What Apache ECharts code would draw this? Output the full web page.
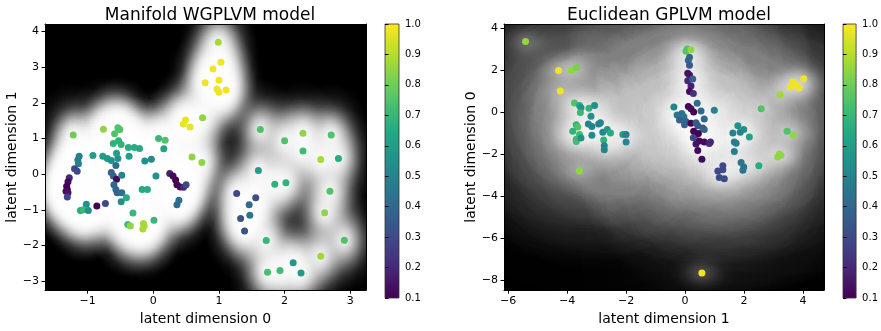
<!DOCTYPE html>
<html>
<head>
<meta charset="utf-8">
<script src="https://cdn.jsdelivr.net/npm/echarts@6/dist/echarts.min.js"></script>
<style>
html, body { margin: 0; padding: 0; background: #fff; }
#main { width: 881px; height: 331px; }
</style>
</head>
<body>
<div id="main"></div>
<script>
// colour scale (viridis) and tick labels
var viridis = ['#440154', '#482475', '#414487', '#355f8d', '#2a788e', '#21918c',
               '#22a884', '#44bf70', '#7ad151', '#bddf26', '#fde725'];
var leftXTicks = [-1, 0, 1, 2, 3];
var leftYTicks = [-3, -2, -1, 0, 1, 2, 3, 4];
var rightXTicks = [-6, -4, -2, 0, 2, 4];
var rightYTicks = [-8, -6, -4, -2, 0, 2, 4];
var cbTicks = [0.1, 0.2, 0.3, 0.4, 0.5, 0.6, 0.7, 0.8, 0.9, 1.0];

// [latent x, latent y, colour value]
var leftPoints = [
  [0.99, 3.70, 0.88], [1.03, 3.14, 0.98], [0.91, 2.95, 0.98], [1.00, 2.63, 0.98], [0.79, 2.56, 0.98],
  [0.97, 2.39, 0.98], [1.00, 2.30, 0.98], [1.11, 2.36, 0.98],
  [0.75, 1.58, 0.85], [0.49, 1.52, 0.97], [0.46, 1.41, 0.97], [0.56, 1.32, 0.97],
  [-1.22, 1.10, 0.80], [-0.76, 1.26, 0.85], [-0.54, 1.30, 0.75], [-0.51, 1.25, 0.75], [-0.59, 1.13, 0.75],
  [-0.53, 0.94, 0.68], [-0.61, 0.86, 0.68], [-0.49, 0.83, 0.68], [-0.38, 0.75, 0.66], [-0.29, 0.75, 0.66],
  [-0.21, 0.72, 0.64], [0.08, 1.00, 0.70], [0.18, 0.95, 0.75], [0.16, 0.71, 0.62], [0.59, 0.48, 0.85],
  [0.74, 0.33, 0.85],
  [-0.92, 0.52, 0.60], [-0.77, 0.50, 0.60], [-0.70, 0.44, 0.58], [-0.64, 0.38, 0.55], [-0.54, 0.44, 0.55],
  [-1.13, 0.50, 0.48], [-1.15, 0.40, 0.48], [-1.14, 0.29, 0.50], [-0.37, 0.50, 0.60], [-0.13, 0.37, 0.55],
  [-0.03, 0.42, 0.52], [-0.56, 0.59, 0.60],
  [-1.20, 0.15, 0.30], [-1.16, 0.08, 0.30],
  [-1.28, -0.10, 0.20], [-1.30, -0.21, 0.12], [-1.32, -0.34, 0.10], [-1.31, -0.43, 0.10], [-1.33, -0.48, 0.12],
  [-1.30, -0.52, 0.15], [-1.31, -0.64, 0.28],
  [-0.57, 0.24, 0.42], [-0.64, 0.05, 0.38], [-0.61, -0.05, 0.38], [-0.56, -0.14, 0.12], [-0.48, -0.03, 0.50],
  [-0.60, -0.30, 0.40], [-0.57, -0.43, 0.40], [-0.55, -0.52, 0.40], [-0.48, -0.52, 0.42], [-0.41, -0.66, 0.65],
  [-0.49, -0.77, 0.55],
  [0.04, -0.05, 0.55], [-0.17, -0.43, 0.65], [-0.09, -0.43, 0.65],
  [-1.02, -0.84, 0.55], [-0.86, -0.89, 0.10], [-0.73, -0.82, 0.30],
  [-1.11, -1.02, 0.65], [-1.07, -1.00, 0.70], [-0.99, -1.02, 0.55],
  [-0.31, -1.09, 0.70], [-0.39, -1.41, 0.72], [-0.35, -1.45, 0.85],
  [-0.15, -1.38, 0.88], [-0.14, -1.45, 0.88], [-0.16, -1.54, 0.88], [0.01, -1.29, 0.70],
  [0.25, 0.02, 0.18], [0.30, -0.05, 0.12], [0.34, -0.16, 0.10], [0.36, -0.30, 0.12], [0.41, -0.36, 0.12],
  [0.46, -0.37, 0.20], [0.50, -0.30, 0.30], [0.39, -0.73, 0.42], [0.36, -0.86, 0.42],
  [1.63, 1.25, 0.75], [2.28, 1.15, 0.85], [2.71, 1.10, 0.75], [2.00, 0.94, 0.75], [2.28, 0.65, 0.72],
  [2.55, 0.41, 0.88], [2.82, 0.44, 0.65],
  [1.60, 0.10, 0.60], [1.85, -0.28, 0.68], [2.02, -0.24, 0.68], [2.69, -0.48, 0.75],
  [1.27, -0.54, 0.30], [1.56, -0.66, 0.32], [1.46, -0.86, 0.42], [1.47, -1.15, 0.45], [1.33, -1.24, 0.33],
  [1.39, -1.59, 0.32],
  [2.61, -1.08, 0.85], [1.72, -1.86, 0.70], [2.91, -1.85, 0.75], [2.55, -2.30, 0.87], [2.13, -2.48, 0.58],
  [2.25, -2.77, 0.58], [1.74, -2.75, 0.73], [1.93, -2.70, 0.72]
];

var rightPoints = [
  [-5.41, 3.36, 0.85], [-4.29, 1.97, 0.98], [-3.86, 1.97, 0.85], [-3.68, 2.12, 0.82], [-4.23, 1.00, 0.98],
  [-3.75, 0.43, 0.75], [-3.58, 0.31, 0.65], [-3.53, 0.20, 0.55], [-3.55, -0.03, 0.70], [-3.26, 0.18, 0.68],
  [-3.07, 0.31, 0.55], [-3.19, -0.20, 0.55],
  [-3.28, -0.57, 0.50], [-3.16, -0.69, 0.50], [-2.93, -0.58, 0.50], [-2.87, -0.51, 0.50], [-3.69, -0.61, 0.68],
  [-3.64, -0.72, 0.75], [-3.81, -0.92, 0.68], [-3.58, -1.07, 0.72], [-3.69, -1.30, 0.72], [-3.69, -1.41, 0.72],
  [-3.53, -1.24, 0.55], [-3.16, -1.11, 0.52], [-2.79, -0.97, 0.52], [-2.64, -0.84, 0.58], [-2.53, -1.00, 0.65],
  [-2.76, -1.34, 0.68], [-2.74, -1.61, 0.50], [-2.74, -1.80, 0.50], [-2.11, -1.07, 0.60], [-2.00, -1.07, 0.50],
  [-2.00, -1.43, 0.52],
  [-3.58, -2.81, 0.85],
  [0.07, 3.00, 0.75], [0.03, 2.89, 0.75], [0.20, 2.96, 0.85], [0.15, 2.61, 0.40], [0.11, 2.46, 0.40],
  [0.15, 2.23, 0.35], [0.09, 1.84, 0.15], [0.15, 1.76, 0.15], [0.09, 1.49, 0.20], [0.26, 1.57, 0.38],
  [0.20, 1.23, 0.18], [0.15, 0.97, 0.12], [0.28, 0.88, 0.22],
  [-0.38, 0.23, 0.50], [0.11, 0.26, 0.12], [0.20, 0.15, 0.12], [0.41, 0.41, 0.42], [0.54, 0.05, 0.40],
  [0.29, 0.00, 0.10], [0.99, 0.08, 0.50],
  [-0.27, -0.15, 0.45], [-0.11, -0.08, 0.45], [-0.04, -0.23, 0.45], [-0.19, -0.38, 0.38], [-0.02, -0.61, 0.38],
  [0.03, -0.46, 0.38], [0.20, -0.54, 0.10], [0.37, -0.51, 0.35], [0.65, -0.34, 0.40], [0.43, -0.66, 0.35],
  [0.60, -0.77, 0.35], [0.65, -0.84, 0.38],
  [0.29, -0.92, 0.10], [0.37, -1.07, 0.10], [0.45, -1.03, 0.10], [0.28, -1.23, 0.30], [0.48, -1.38, 0.12],
  [0.65, -1.43, 0.12], [0.82, -1.51, 0.20], [0.86, -1.43, 0.20], [0.37, -1.53, 0.15], [0.43, -1.84, 0.12],
  [0.57, -2.26, 0.12],
  [1.79, -0.66, 0.55], [1.99, -0.84, 0.55], [1.62, -1.00, 0.50], [1.87, -0.97, 0.50], [2.18, -1.20, 0.62],
  [1.67, -1.43, 0.48], [1.73, -1.49, 0.48], [1.67, -1.89, 0.48],
  [2.58, 0.15, 0.75], [3.22, 0.82, 0.87], [3.65, 1.43, 0.98], [3.57, 1.18, 0.98], [3.76, 1.30, 0.98],
  [3.87, 1.15, 0.98], [4.02, 1.58, 0.98],
  [3.46, -0.92, 0.75], [3.67, -1.11, 0.85], [3.20, -2.00, 0.85], [3.25, -2.07, 0.85], [3.14, -2.15, 0.85],
  [1.28, -2.57, 0.30], [1.11, -2.81, 0.30], [1.28, -2.76, 0.30], [1.16, -3.12, 0.30], [1.33, -3.18, 0.30],
  [1.90, -2.41, 0.45], [1.99, -2.63, 0.45], [1.96, -2.78, 0.45], [2.50, -2.57, 0.65],
  [0.57, -7.68, 0.98]
];

var myChart = echarts.init(document.getElementById('main'));
var font = 'DejaVu Sans';

function minus(v) {
  return String(v).replace('-', '\u2212');
}

// soft white halo around each point, radii rx / ry in data units
function glow(rx, ry, stops) {
  return function (params, api) {
    var p = api.coord([api.value(0), api.value(1)]);
    var s = api.size([1, 1]);
    return {
      type: 'circle',
      x: p[0],
      y: p[1],
      scaleX: (rx * s[0]) / (ry * s[1]),
      shape: { cx: 0, cy: 0, r: ry * s[1] },
      style: { fill: new echarts.graphic.RadialGradient(0.5, 0.5, 0.5, stops) }
    };
  };
}
// wide smooth halo drawn as a blurred shadow (sigma in data units)
function blurGlow(sigma, alpha) {
  return function (params, api) {
    var p = api.coord([api.value(0), api.value(1)]);
    var s = api.size([1, 1]);
    var sp = sigma * Math.sqrt(s[0] * s[1]);
    var r0 = sp * 0.6;
    var off = 4000;
    return {
      type: 'circle',
      x: p[0] - off,
      y: p[1],
      shape: { cx: 0, cy: 0, r: r0 },
      style: {
        fill: '#fff',
        shadowBlur: 2 * Math.sqrt(sp * sp - r0 * r0 / 4),
        shadowColor: 'rgba(255,255,255,' + alpha + ')',
        shadowOffsetX: off
      }
    };
  };
}
// gaussian-like fall-off, radius = 3 sigma
function gauss(a) {
  var out = [];
  for (var i = 0; i <= 10; i++) {
    var t = i / 10;
    var alpha = i === 10 ? 0 : a * Math.exp(-4.5 * t * t);
    out.push({ offset: t, color: 'rgba(255,255,255,' + alpha.toFixed(4) + ')' });
  }
  return out;
}

function mainX(idx, min, max, ticks, name) {
  return {
    gridIndex: idx, type: 'value', min: min, max: max, z: 5,
    axisLine: { show: true, onZero: false, lineStyle: { color: '#000', width: 1 } },
    axisTick: { show: true, length: 3.5, customValues: ticks, lineStyle: { color: '#000' } },
    axisLabel: { customValues: ticks, formatter: minus, color: '#000', fontSize: 11, fontFamily: font, margin: 6 },
    splitLine: { show: false },
    name: name, nameLocation: 'middle', nameGap: 20,
    nameTextStyle: { color: '#000', fontSize: 14, fontFamily: font }
  };
}
function mainY(idx, min, max, ticks, name) {
  return {
    gridIndex: idx, type: 'value', min: min, max: max, z: 5,
    axisLine: { show: true, onZero: false, lineStyle: { color: '#000', width: 1 } },
    axisTick: { show: true, length: 3.5, customValues: ticks, lineStyle: { color: '#000' } },
    axisLabel: { customValues: ticks, formatter: minus, color: '#000', fontSize: 11, fontFamily: font, margin: 6 },
    splitLine: { show: false },
    name: name, nameLocation: 'middle', nameGap: 20,
    nameTextStyle: { color: '#000', fontSize: 14, fontFamily: font }
  };
}
function frameAxis(idx, pos) {
  return {
    gridIndex: idx, type: 'value', position: pos, z: 5,
    axisLine: { show: true, onZero: false, lineStyle: { color: '#000', width: 1 } },
    axisTick: { show: false }, axisLabel: { show: false }, splitLine: { show: false }
  };
}
function cbX(idx) {
  return { gridIndex: idx, type: 'value', min: 0, max: 1, show: false };
}
function cbY(idx) {
  return {
    gridIndex: idx, type: 'value', min: 0.1, max: 1.0, position: 'right',
    axisLine: { show: false },
    axisTick: { show: true, length: 3.5, customValues: cbTicks, lineStyle: { color: '#000' } },
    axisLabel: {
      customValues: cbTicks, color: '#000', fontSize: 10, fontFamily: font, margin: 6,
      formatter: function (v) { return v.toFixed(1); }
    },
    splitLine: { show: false }
  };
}
var cbFill = {
  type: 'linear', x: 0, y: 1, x2: 0, y2: 0,
  colorStops: viridis.map(function (c, i) { return { offset: i / 10, color: c }; })
};

function customSeries(axis, data, z, render) {
  return {
    type: 'custom', xAxisIndex: axis, yAxisIndex: axis, clip: true, z: z, silent: true,
    encode: { x: 0, y: 1 },
    renderItem: render,
    data: data
  };
}

option = {
  animation: false,
  backgroundColor: '#fff',
  textStyle: { fontFamily: font },
  title: [
    { text: 'Manifold WGPLVM model', left: 205, top: 2, textAlign: 'center',
      textStyle: { fontSize: 17, fontWeight: 'normal', color: '#000', fontFamily: font } },
    { text: 'Euclidean GPLVM model', left: 664, top: 2, textAlign: 'center',
      textStyle: { fontSize: 17, fontWeight: 'normal', color: '#000', fontFamily: font } }
  ],
  grid: [
    { left: 45, top: 24, width: 321, height: 275, show: true, backgroundColor: '#000', borderWidth: 0 },
    { left: 385, top: 24, width: 14, height: 274, show: true, backgroundColor: cbFill, borderColor: '#333', borderWidth: 0.8 },
    { left: 504, top: 24, width: 320, height: 275, show: true, backgroundColor: '#000', borderWidth: 0 },
    { left: 843, top: 24, width: 14, height: 274, show: true, backgroundColor: cbFill, borderColor: '#333', borderWidth: 0.8 }
  ],
  xAxis: [
    mainX(0, -1.65, 3.24, leftXTicks, 'latent dimension 0'),
    cbX(1),
    mainX(2, -6.14, 4.71, rightXTicks, 'latent dimension 1'),
    cbX(3),
    frameAxis(0, 'top'),
    frameAxis(2, 'top')
  ],
  yAxis: [
    mainY(0, -3.25, 4.21, leftYTicks, 'latent dimension 1'),
    cbY(1),
    mainY(2, -8.49, 4.19, rightYTicks, 'latent dimension 0'),
    cbY(3),
    frameAxis(0, 'right'),
    frameAxis(2, 'right')
  ],
  visualMap: {
    show: false, type: 'continuous', dimension: 2, min: 0.1, max: 1.0,
    seriesIndex: [1, 4], inRange: { color: viridis }
  },
  series: [
    customSeries(0, leftPoints, 1, glow(0.6, 1.46, gauss(0.9))),
    {
      type: 'scatter', xAxisIndex: 0, yAxisIndex: 0, z: 4,
      symbolSize: 7, encode: { x: 0, y: 1 },
      itemStyle: { opacity: 1 },
      data: leftPoints
    },
    customSeries(2, rightPoints, 1, blurGlow(1.8, 0.22)),
    customSeries(2, rightPoints, 2, glow(1.2, 1.2, gauss(0.22))),
    {
      type: 'scatter', xAxisIndex: 2, yAxisIndex: 2, z: 4,
      symbolSize: 7, encode: { x: 0, y: 1 },
      itemStyle: { opacity: 1 },
      data: rightPoints
    }
  ]
};

myChart.setOption(option);
window.addEventListener('resize', function () {
  myChart.resize();
});
</script>
</body>
</html>
